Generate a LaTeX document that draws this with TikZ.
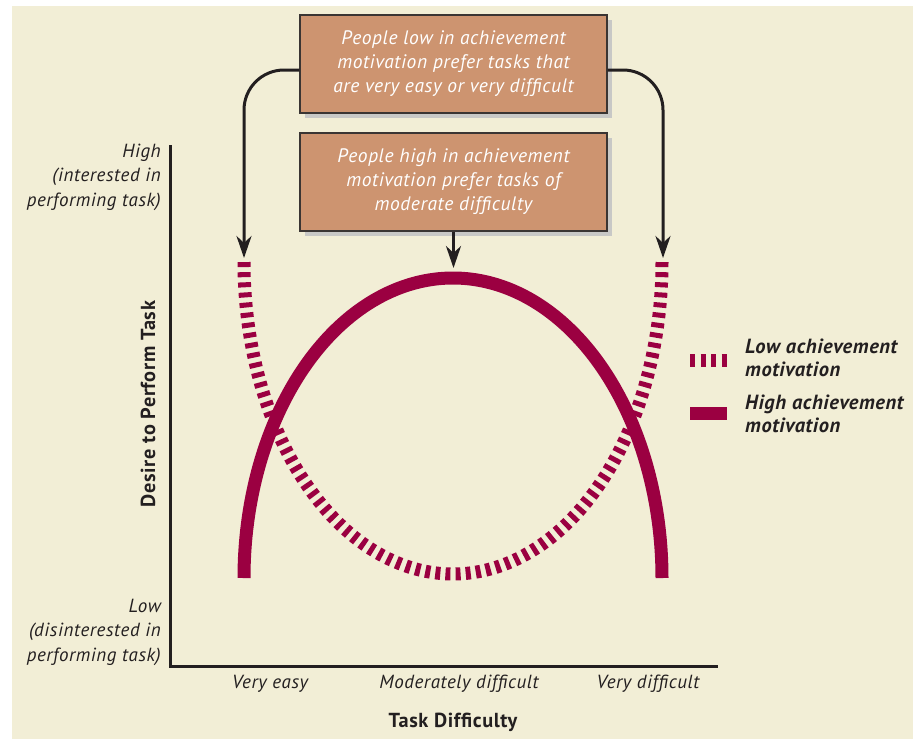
\documentclass[tikz,border=0pt]{standalone}
\usepackage{fontspec}
\setmainfont{PT Sans}[LetterSpace=3]
\usetikzlibrary{arrows.meta,shadows}
\definecolor{bg}{HTML}{F2EED6}
\definecolor{boxfill}{HTML}{CD9470}
\definecolor{boxline}{HTML}{3A3533}
\definecolor{shade}{HTML}{C8C8C6}
\definecolor{crim}{HTML}{9B0041}
\definecolor{ink}{HTML}{231F20}
\begin{document}
\begin{tikzpicture}[x=1pt,y=-1pt,
  infobox/.style={draw=boxline, line width=1.2pt, fill=boxfill,
    minimum width=307pt, minimum height=98pt, inner sep=0pt, align=center,
    text=white, font=\fontsize{19.5}{24}\selectfont\itshape,
    drop shadow={shadow xshift=5pt, shadow yshift=-5pt, fill=shade, opacity=1}},
  arr/.style={draw=ink, line width=3pt, -{Stealth[length=22pt,width=15pt,inset=7pt]}},
  axislbl/.style={text=ink, font=\fontsize{19}{24.5}\selectfont\itshape, inner sep=0pt},
  boldlbl/.style={text=ink, font=\fontsize{20.3}{22}\selectfont\bfseries, inner sep=0pt},
  leglbl/.style={text=ink, font=\fontsize{20.5}{23.5}\selectfont\bfseries\itshape, inner sep=0pt, align=left, anchor=west},
  curve/.style={draw=crim, line width=13pt, line join=round},
  dashcurve/.style={curve, dash pattern=on 5pt off 5.14pt, dash phase=7.57pt}
]
\useasboundingbox (0,0) rectangle (913,739);
\fill[white] (0,0) rectangle (913,739);
\fill[bg] (12,6) rectangle (913,739);

% boxes
\node[infobox] (lowbox) at (453.5,64) {People low in achievement\\motivation prefer tasks that\\are very easy or very difficult};
\node[infobox] (highbox) at (453.5,182) {People high in achievement\\motivation prefer tasks of\\moderate difficulty};

% axes
\coordinate (ytop) at (170,145);
\coordinate (origin) at (170,666);
\coordinate (xend) at (718,666);
\draw[ink, line width=3pt, line join=miter] (ytop) -- (origin) -- (xend);

% curves: low achievement (dashed), drawn from the bottom outwards
\draw[dashcurve] plot[domain=90:0, samples=91] ({453-209*cos(\x)},{262+312*sin(\x)});
\draw[dashcurve] plot[domain=90:180, samples=91] ({453-209*cos(\x)},{262+312*sin(\x)});
% high achievement (solid)
\draw[curve] plot[domain=180:0, samples=181] ({453+209*cos(\x)},{578-300*sin(\x)});

% connectors
\coordinate (lt) at (244,258);
\coordinate (rt) at (663,258);
\coordinate (mt) at (453.5,268);
\draw[arr, rounded corners=40pt] ([yshift=-6pt]lowbox.west) -| (lt);
\draw[arr, rounded corners=40pt] ([yshift=-6pt]lowbox.east) -| (rt);
\draw[arr] (highbox.south) -- (mt);

% axis labels
\node[axislbl, anchor=east, align=right] (hi) at (161,177) {High\\(interested in\\performing task)};
\node[axislbl, anchor=east, align=right] (lo) at (161,632) {Low\\(disinterested in\\performing task)};
\node[boldlbl, rotate=90] (ylab) at (148,404) {Desire to Perform Task};
\node[axislbl] (ve) at (270,684) {Very easy};
\node[axislbl] (md) at (459,684) {Moderately difficult};
\node[axislbl] (vd) at (648,684) {Very difficult};
\node[boldlbl] (xlab) at (453,722) {Task Difficulty};

% legend
\coordinate (l1a) at (690,360);
\coordinate (l1b) at (727,360);
\coordinate (l2a) at (690,413);
\coordinate (l2b) at (727,413);
\draw[curve, dash pattern=on 5pt off 5.5pt] (l1a) -- (l1b);
\draw[curve] (l2a) -- (l2b);
\node[leglbl] (lowleg) at (745,358) {Low achievement\\motivation};
\node[leglbl] (highleg) at (745,414) {High achievement\\motivation};
\end{tikzpicture}
\end{document}
